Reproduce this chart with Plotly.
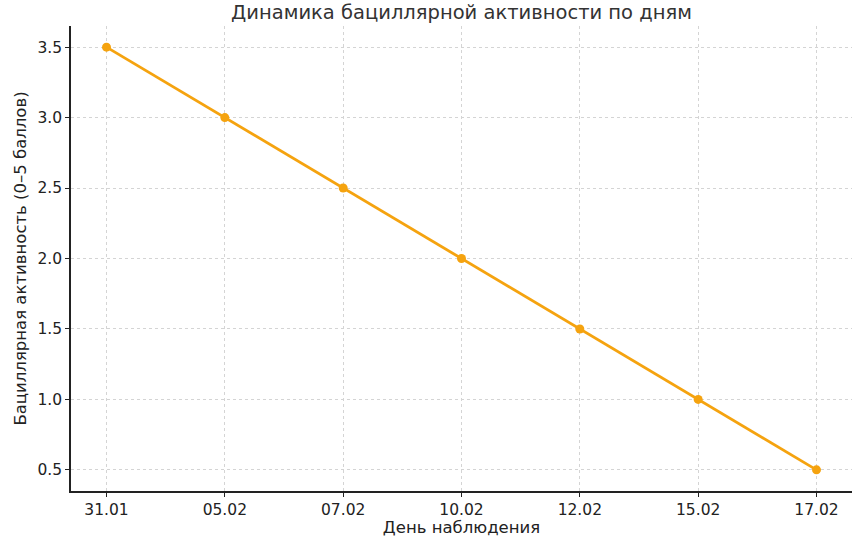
import plotly.graph_objects as go

days = ["31.01", "05.02", "07.02", "10.02", "12.02", "15.02", "17.02"]
activity = [3.5, 3.0, 2.5, 2.0, 1.5, 1.0, 0.5]
y_ticks = [0.5, 1.0, 1.5, 2.0, 2.5, 3.0, 3.5]

orange = "#f5a30f"

fig = go.Figure()
fig.add_trace(go.Scatter(
    x=list(range(len(days))), y=activity,
    mode="lines+markers",
    line=dict(color=orange, width=2.8),
    marker=dict(color=orange, size=9),
))

fig.update_layout(
    width=859, height=537,
    paper_bgcolor="white", plot_bgcolor="white",
    font=dict(family="DejaVu Sans", size=15.5, color="#222"),
    margin=dict(l=71, r=7, t=26, b=46, autoexpand=False),
    showlegend=False,
    title=dict(text="Динамика бациллярной активности по дням",
               x=0.5, xref="paper", xanchor="center",
               y=1 - 12.5 / 537, yref="container", yanchor="middle",
               font=dict(size=19.5, color="#333")),
)
fig.update_xaxes(
    range=[-0.3, 6.3], tickvals=list(range(len(days))), ticktext=days,
    showgrid=True, gridcolor="#d4d4d4", griddash="dot", gridwidth=1,
    showline=True, linecolor="#222", linewidth=1.5,
    ticks="outside", ticklen=4, tickcolor="#222",
    zeroline=False,
    title=dict(text="День наблюдения", standoff=4, font=dict(size=16.5)),
)
fig.update_yaxes(
    range=[0.35, 3.65], tickvals=y_ticks, ticktext=[f"{v:.1f}" for v in y_ticks],
    showgrid=True, gridcolor="#d4d4d4", griddash="dot", gridwidth=1,
    showline=True, linecolor="#222", linewidth=1.5,
    ticks="outside", ticklen=4, tickcolor="#222",
    zeroline=False,
    title=dict(text="Бациллярная активность (0–5 баллов)", standoff=7, font=dict(size=16.5)),
)

# drop the default 8px body margin so the figure fills the window
fig.write_html("out.html", config={"displayModeBar": False},
               post_script="document.body.style.margin = '0';")
